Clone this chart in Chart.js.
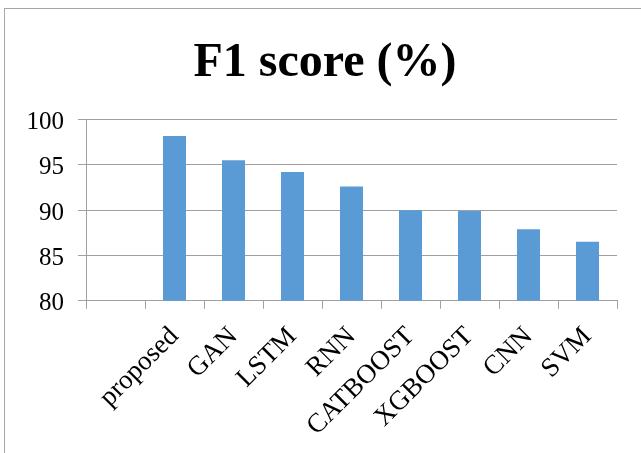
<!DOCTYPE html>
<html>
<head>
<meta charset="utf-8">
<script src="https://cdn.jsdelivr.net/npm/chart.js@4/dist/chart.umd.min.js"></script>
<style>
  html, body { margin: 0; padding: 0; background: #fff; overflow: hidden; width: 641px; height: 453px; }
  #frame {
    position: absolute; left: 4px; top: 8px; width: 640px; height: 450px;
    border-left: 1px solid #a6a6a6; border-top: 1px solid #a6a6a6; background: #fff;
  }
  canvas { display: block; }
</style>
</head>
<body>
<div id="frame"><canvas id="c" width="640" height="444"></canvas></div>
<script>
// Models compared (the first slot is left empty on purpose)
const categories = ['', 'proposed', 'GAN', 'LSTM', 'RNN', 'CATBOOST', 'XGBOOST', 'CNN', 'SVM'];
// F1 score per model, in percent
const f1Scores = [null, 98.2, 95.5, 94.2, 92.6, 90.0, 89.9, 87.9, 86.5];
// Value axis range and step
const yMin = 80;
const yMax = 100;
const yStep = 5;

const serif = '"Liberation Serif", "Times New Roman", Times, serif';
const lineGrey = '#a0a0a0';

new Chart(document.getElementById('c'), {
  type: 'bar',
  data: {
    labels: categories,
    datasets: [{
      label: 'F1 score (%)',
      data: f1Scores,
      backgroundColor: '#5b9bd5',
      borderWidth: 0,
      barPercentage: 0.39,
      categoryPercentage: 1.0
    }]
  },
  options: {
    responsive: false,
    animation: false,
    devicePixelRatio: 1,
    layout: { padding: { left: 0, right: 0, top: 26, bottom: 0 } },
    plugins: {
      legend: { display: false },
      tooltip: { enabled: false },
      title: {
        display: true,
        text: 'F1 score (%)',
        color: '#000',
        font: { family: serif, size: 48, weight: 'bold' },
        padding: { top: 0, bottom: 27 }
      }
    },
    scales: {
      x: {
        grid: { offset: true, drawOnChartArea: false, drawTicks: true, tickLength: 8, color: lineGrey, lineWidth: 1 },
        border: { color: lineGrey, width: 1 },
        ticks: {
          autoSkip: false, minRotation: 45, maxRotation: 45,
          color: '#000', padding: 12, labelOffset: 0,
          font: { family: serif, size: 27 }
        },
        afterFit: (s) => { s.height = 444 - 291.7; }
      },
      y: {
        min: yMin, max: yMax,
        grid: { color: lineGrey, lineWidth: 1, tickLength: 8 },
        border: { color: lineGrey, width: 1 },
        ticks: {
          stepSize: yStep, padding: 14, labelOffset: 3,
          color: '#000',
          font: { family: serif, size: 25 }
        },
        afterFit: (s) => { s.width = 81; }
      },
      // empty right-hand margin so the plot ends short of the frame edge
      margin: {
        type: 'linear', position: 'right', display: true,
        grid: { display: false }, border: { display: false },
        ticks: { display: false },
        afterFit: (s) => { s.width = 28; }
      }
    }
  }
});
</script>
</body>
</html>
